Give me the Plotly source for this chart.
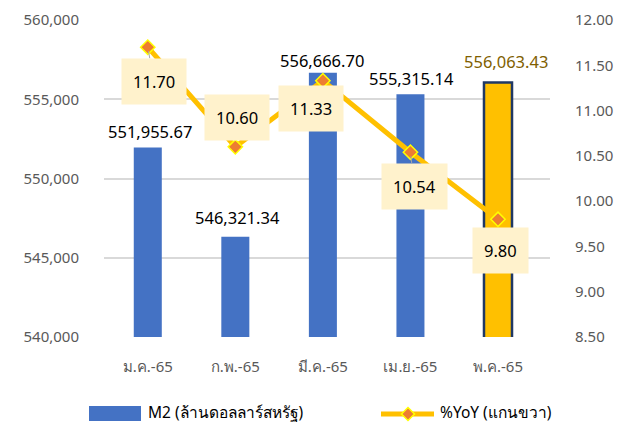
import plotly.graph_objects as go

categories = ["ม.ค.-65", "ก.พ.-65", "มี.ค.-65", "เม.ย.-65", "พ.ค.-65"]
m2_values = [551955.67, 546321.34, 556666.70, 555315.14, 556063.43]
yoy_values = [11.70, 10.60, 11.33, 10.54, 9.80]
m2_labels = ["551,955.67", "546,321.34", "556,666.70", "555,315.14", "556,063.43"]
yoy_labels = ["11.70", "10.60", "11.33", "10.54", "9.80"]
series_names = ["M2 (ล้านดอลลาร์สหรัฐ)", "%YoY (แกนขวา)"]

FONT = "Noto Sans, Tahoma, sans-serif"
W, H = 631, 422
ML, MR, MT, MB = 104, 81, 20, 85
PW, PH = W - ML - MR, H - MT - MB


def px(xp):
    return (xp - ML) / PW


def py(yp):
    return (H - MB - yp) / PH


bar_colors = ["#4472C4"] * 4 + ["#FFC000"]
bar_line_colors = ["#4472C4"] * 4 + ["#1F3864"]
bar_line_widths = [0, 0, 0, 0, 2.5]

fig = go.Figure()
fig.add_trace(go.Bar(
    x=categories, y=m2_values, name=series_names[0],
    marker=dict(color=bar_colors, line=dict(color=bar_line_colors, width=bar_line_widths)),
    width=0.32, yaxis="y",
))
fig.add_trace(go.Scatter(
    x=categories, y=yoy_values, name=series_names[1], yaxis="y2",
    mode="lines+markers",
    line=dict(color="#FFC000", width=5),
    marker=dict(symbol="diamond", size=11, color="#ED7D31", line=dict(color="#FFFF00", width=1.5)),
))

# bar value labels
bar_dx = [2, 2, -1, 1, 8]
bar_dy = [16, 19, 12, 16, 21]
bar_txt_colors = ["#000000"] * 4 + ["#7F6000"]
for c, v, t, dx, dy, col in zip(categories, m2_values, m2_labels, bar_dx, bar_dy, bar_txt_colors):
    fig.add_annotation(x=c, y=v, xref="x", yref="y", text=t, showarrow=False,
                       xshift=dx, yshift=dy, yanchor="middle",
                       font=dict(family=FONT, size=16.5, color=col))

# yoy labels in boxes (offset in screen px, positive = down)
yoy_dx = [6, 2, -12, 4, 2]
yoy_down = [34, -29, 28, 34, 31]
leader = [True, False, False, True, False]
for c, v, t, dx, dd, ld in zip(categories, yoy_values, yoy_labels, yoy_dx, yoy_down, leader):
    if ld:
        fig.add_annotation(x=c, y=v, xref="x", yref="y2", text=t, showarrow=True,
                           arrowhead=0, arrowwidth=1, arrowcolor="#A6A6A6",
                           ax=dx, ay=dd, standoff=4,
                           bgcolor="#FFF2CC", borderpad=11,
                           font=dict(family=FONT, size=16.5, color="#000000"))
    else:
        fig.add_annotation(x=c, y=v, xref="x", yref="y2", text=t, showarrow=False,
                           xshift=dx, yshift=-dd,
                           bgcolor="#FFF2CC", borderpad=11,
                           font=dict(family=FONT, size=16.5, color="#000000"))

# custom legend (paper coordinates)
fig.add_shape(type="rect", xref="paper", yref="paper",
              x0=px(89), x1=px(141), y0=py(421), y1=py(406),
              fillcolor="#4472C4", line=dict(width=0), layer="above")
fig.add_annotation(xref="paper", yref="paper", x=px(146), y=py(412), xanchor="left",
                   yanchor="middle", text=series_names[0], showarrow=False,
                   font=dict(family=FONT, size=15.5, color="#000000"))
fig.add_shape(type="line", xref="paper", yref="paper",
              x0=px(381), x1=px(434), y0=py(414), y1=py(414),
              line=dict(color="#FFC000", width=5), layer="above")
cx, cy, r = 408, 414, 6.5
fig.add_shape(type="path", xref="paper", yref="paper",
              path=f"M {px(cx)},{py(cy - r)} L {px(cx + r)},{py(cy)} L {px(cx)},{py(cy + r)} L {px(cx - r)},{py(cy)} Z",
              fillcolor="#ED7D31", line=dict(color="#FFFF00", width=1.5), layer="above")
fig.add_annotation(xref="paper", yref="paper", x=px(438), y=py(412), xanchor="left",
                   yanchor="middle", text=series_names[1], showarrow=False,
                   font=dict(family=FONT, size=15.5, color="#000000"))

fig.update_layout(
    width=W, height=H,
    margin=dict(l=ML, r=MR, t=MT, b=MB),
    paper_bgcolor="white", plot_bgcolor="white",
    font=dict(family=FONT, size=15, color="#595959"),
    showlegend=False,
    xaxis=dict(showline=False, ticks="", ticklabelstandoff=19, automargin=False,
               tickfont=dict(size=15, color="#595959")),
    yaxis=dict(range=[540000, 560000], dtick=5000, tickformat=",.0f",
               showgrid=True, gridcolor="#D9D9D9", gridwidth=1.5, automargin=False,
               zeroline=False, showline=False, ticklabelstandoff=24,
               tickfont=dict(size=15, color="#595959")),
    yaxis2=dict(range=[8.5, 12.0], dtick=0.5, tickformat=".2f", overlaying="y",
                side="right", showgrid=False, zeroline=False, showline=False,
                automargin=False, ticklabelstandoff=24,
                tickfont=dict(size=15, color="#595959")),
)

fig.write_html("out.html", config={"displayModeBar": False},
               post_script="document.body.style.margin='0';document.body.style.overflow='hidden';")
